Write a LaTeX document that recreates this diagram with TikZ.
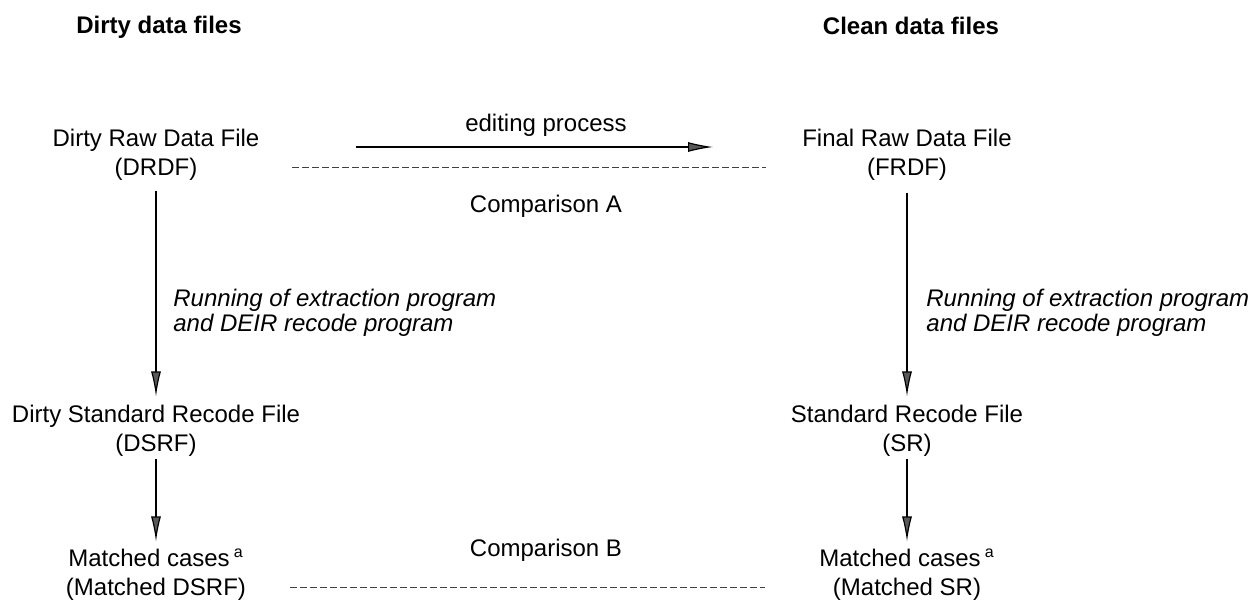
\documentclass[tikz,border=0pt]{standalone}
\usepackage{fontspec}
\setmainfont{Liberation Sans}
\usetikzlibrary{arrows.meta}
\begin{document}
\begin{tikzpicture}[x=0.5pt,y=-0.5pt,
  txt/.style={font=\fontsize{12}{14.5}\selectfont, align=center, inner sep=0pt},
  hdr/.style={font=\fontsize{12}{14.5}\selectfont\bfseries, inner sep=0pt},
  lbl/.style={font=\fontsize{12}{12.5}\selectfont\itshape, align=left, inner sep=0pt, anchor=west},
  flow/.style={line width=0.6pt, -{Latex[length=12.5pt,width=5pt,fill=black!65]}},
  cmp/.style={line width=0.45pt, black!75, dash pattern=on 3.5pt off 1.5pt}]
\useasboundingbox (0,0) rectangle (1254,600);
% headers
\node[hdr] (hdirty) at (159,27) {Dirty data files};
\node[hdr] (hclean) at (911,26) {Clean data files};
% left column
\node[txt] (drdf) at (156,154.5) {Dirty Raw Data File\\(DRDF)};
\node[txt] (dsrf) at (156,430.5) {Dirty Standard Recode File\\(DSRF)};
\node[txt] (mdsrf) at (156,574.5) {Matched cases\,\textsuperscript{a}\\(Matched DSRF)};
% right column
\node[txt] (frdf) at (907,154.5) {Final Raw Data File\\(FRDF)};
\node[txt] (sr) at (907,430.5) {Standard Recode File\\(SR)};
\node[txt] (msr) at (907,574.5) {Matched cases\,\textsuperscript{a}\\(Matched SR)};
% italic process labels
\node[lbl] (runl) at (173,312.5) {Running of extraction program\\and DEIR recode program};
\node[lbl] (runr) at (926,312.5) {Running of extraction program\\and DEIR recode program};
% middle labels
\node[txt] (edit) at (546,125) {editing process};
\node[txt] (cmpa) at (546,206) {Comparison A};
\node[txt] (cmpb) at (546,550) {Comparison B};
% coordinates for free-standing connectors
\coordinate (e1) at (356,147);
\coordinate (e2) at (713,147);
\coordinate (a1) at (292,167);
\coordinate (a2) at (766,167);
\coordinate (b1) at (290,587);
\coordinate (b2) at (765,587);
% vertical flows
\draw[flow, shorten <=5pt, shorten >=4pt] (drdf) -- (dsrf);
\draw[flow, shorten <=1pt, shorten >=3.5pt] (dsrf) -- (mdsrf);
\draw[flow, shorten <=6pt, shorten >=4pt] (frdf) -- (sr);
\draw[flow, shorten <=1pt, shorten >=3.5pt] (sr) -- (msr);
% editing process arrow
\draw[flow] (e1) -- (e2);
% comparisons
\draw[cmp] (a1) -- (a2);
\draw[cmp] (b1) -- (b2);
\end{tikzpicture}
\end{document}
